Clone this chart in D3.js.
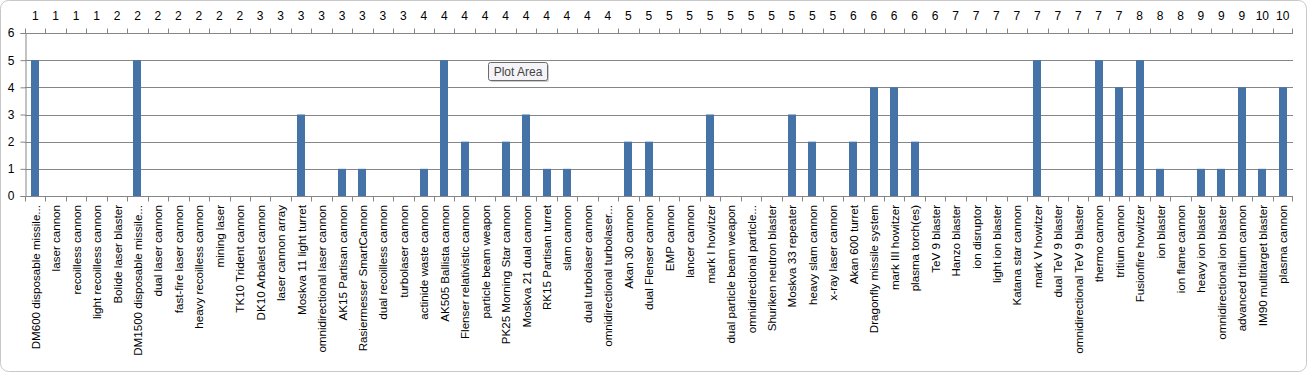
<!DOCTYPE html>
<html><head><meta charset="utf-8">
<script src="https://cdn.jsdelivr.net/npm/d3@7"></script>
<style>
html,body{margin:0;padding:0;background:#fff;}
svg{display:block;font-family:"Liberation Sans",Arial,sans-serif;}
</style></head>
<body><svg id="c" width="1307" height="372"></svg>
<script>
const categories = ["DM600 disposable missile...","laser cannon","recoilless cannon","light recoilless cannon","Bolide laser blaster","DM1500 disposable missile...","dual laser cannon","fast-fire laser cannon","heavy recoilless cannon","mining laser","TK10 Trident cannon","DK10 Arbalest cannon","laser cannon array","Moskva 11 light turret","omnidirectional laser cannon","AK15 Partisan cannon","Rasiermesser SmartCannon","dual recoilless cannon","turbolaser cannon","actinide waste cannon","AK505 Ballista cannon","Flenser relativistic cannon","particle beam weapon","PK25 Morning Star cannon","Moskva 21 dual cannon","RK15 Partisan turret","slam cannon","dual turbolaser cannon","omnidirectional turbolaser...","Akan 30 cannon","dual Flenser cannon","EMP cannon","lancer cannon","mark I howitzer","dual particle beam weapon","omnidirectional particle...","Shuriken neutron blaster","Moskva 33 repeater","heavy slam cannon","x-ray laser cannon","Akan 600 turret","Dragonfly missile system","mark III howitzer","plasma torch(es)","TeV 9 blaster","Hanzo blaster","ion disruptor","light ion blaster","Katana star cannon","mark V howitzer","dual TeV 9 blaster","omnidirectional TeV 9 blaster","thermo cannon","tritium cannon","Fusionfire howitzer","ion blaster","ion flame cannon","heavy ion blaster","omnidirectional ion blaster","advanced tritium cannon","IM90 multitarget blaster","plasma cannon"];
const values = [5,0,0,0,0,5,0,0,0,0,0,0,0,3,0,1,1,0,0,1,5,2,0,2,3,1,1,0,0,2,2,0,0,3,0,0,0,3,2,0,2,4,4,2,0,0,0,0,0,5,0,0,5,4,5,1,0,1,1,4,1,4];
const topLabels = [1,1,1,1,2,2,2,2,2,2,2,3,3,3,3,3,3,3,3,4,4,4,4,4,4,4,4,4,4,5,5,5,5,5,5,5,5,5,5,5,6,6,6,6,6,7,7,7,7,7,7,7,7,7,8,8,8,9,9,9,10,10];
const yTicks = [0,1,2,3,4,5,6];

const svg = d3.select("#c");
const L = 25, R = 1293, T = 33, B = 196;
const grid = "#868686";

// chart border
svg.append("rect").attr("x",0.5).attr("y",0.5).attr("width",1306).attr("height",371)
  .attr("rx",8).attr("fill","none").attr("stroke","#c8c8c8");

const xb = d3.scaleBand().domain(d3.range(categories.length)).range([L,R]);
const y = d3.scaleLinear().domain([0,6]).range([B,T]);

// gridlines
svg.append("g").selectAll("line").data(yTicks.filter(d=>d>0)).join("line")
  .attr("x1",L).attr("x2",R).attr("y1",d=>Math.round(y(d))+0.5).attr("y2",d=>Math.round(y(d))+0.5)
  .attr("stroke",grid).attr("stroke-width",1);

// bars
svg.append("g").selectAll("rect").data(values).join("rect")
  .attr("x",(d,i)=>Math.round(xb(i)+xb.bandwidth()/2-4)).attr("width",8)
  .attr("y",d=>y(d)).attr("height",d=>B-y(d)).attr("fill","#4572A7");

// y axis
const ya = svg.append("g").attr("transform",`translate(${L+0.5},0)`)
  .call(d3.axisLeft(y).tickValues(yTicks).tickSize(5).tickPadding(6).tickFormat(d3.format("d")));
ya.select(".domain").attr("stroke",grid);
ya.selectAll(".tick line").attr("stroke",grid);
ya.selectAll(".tick text").attr("font-size",12).attr("fill","#000").attr("font-family","'Liberation Sans',Arial");

// bottom axis
const xa = svg.append("g").attr("transform",`translate(0,${B+0.5})`)
  .call(d3.axisBottom(xb).tickSize(5).tickFormat(""));
xa.select(".domain").attr("stroke",grid).attr("d",`M${L},0V0H${R}V0`);
xa.selectAll(".tick").attr("transform",(d)=>`translate(${Math.round(xb(d))+0.5},0)`);
xa.append("line").attr("x1",R-0.5).attr("x2",R-0.5).attr("y1",0).attr("y2",5).attr("stroke",grid);
xa.selectAll(".tick line").attr("stroke",grid);

// bottom labels rotated
svg.append("g").selectAll("text").data(categories).join("text")
  .attr("transform",(d,i)=>`translate(${xb(i)+xb.bandwidth()/2+4.5},205) rotate(-90)`)
  .attr("text-anchor","end").attr("font-size",11.6).attr("fill","#000").text(d=>d);

// top axis
const xt = svg.append("g").attr("transform",`translate(0,${T+0.5})`)
  .call(d3.axisTop(xb).tickSize(5).tickFormat(""));
xt.select(".domain").attr("stroke",grid).attr("d",`M${L},0V0H${R}V0`);
xt.selectAll(".tick").attr("transform",(d)=>`translate(${Math.round(xb(d))+0.5},0)`);
xt.append("line").attr("x1",R-0.5).attr("x2",R-0.5).attr("y1",0).attr("y2",-5).attr("stroke",grid);
xt.selectAll(".tick line").attr("stroke",grid);

svg.append("g").selectAll("text").data(topLabels).join("text")
  .attr("x",(d,i)=>xb(i)+xb.bandwidth()/2).attr("y",20)
  .attr("text-anchor","middle").attr("font-size",12).attr("fill","#000").text(d=>d);

// tooltip "Plot Area"
const tip = svg.append("g").attr("transform","translate(488,62)");
tip.append("rect").attr("x",2).attr("y",2).attr("width",59).attr("height",18).attr("rx",2).attr("fill","#9a9a9a").attr("opacity",0.5);
tip.append("rect").attr("x",0.5).attr("y",0.5).attr("width",59).attr("height",18).attr("rx",2)
  .attr("fill","#f4f4f8").attr("stroke","#6a6a6a");
tip.append("text").attr("x",30).attr("y",14).attr("text-anchor","middle").attr("font-size",12).attr("fill","#444").text("Plot Area");
</script></body></html>
